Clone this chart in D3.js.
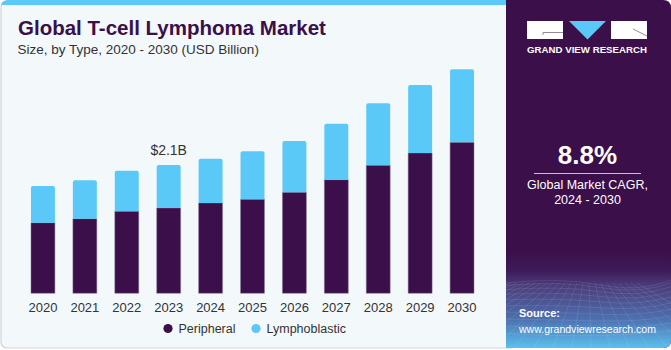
<!DOCTYPE html>
<html>
<head>
<meta charset="utf-8">
<script src="https://cdn.jsdelivr.net/npm/d3@7"></script>
<style>
  body { margin: 0; background: #ffffff; }
  svg { display: block; font-family: "Liberation Sans", Arial, sans-serif; }
</style>
</head>
<body>
<svg id="chart" width="671" height="350"></svg>
<script>
const years = ["2020", "2021", "2022", "2023", "2024", "2025", "2026", "2027", "2028", "2029", "2030"];
const peripheral = [1.155, 1.221, 1.342, 1.396, 1.478, 1.538, 1.653, 1.859, 2.095, 2.296, 2.471];
const lymphoblastic = [0.601, 0.628, 0.665, 0.704, 0.725, 0.786, 0.840, 0.917, 1.015, 1.113, 1.195];
const seriesNames = ["Peripheral", "Lymphoblastic"];
const seriesColors = ["#3a0f4a", "#5bc9f7"];
const callout = { year: "2023", label: "$2.1B" };

const svg = d3.select("#chart");
const W = 671, H = 350;
const purple = "#3a0f4a";

// background panel
svg.append("rect").attr("x", 1).attr("y", 1).attr("width", 515).attr("height", 347)
  .attr("rx", 6).attr("fill", "#f3f8fb").attr("stroke", "#cfd3d6").attr("stroke-width", 1.2);
svg.append("path").attr("d", "M1,7 Q1,0 8,0 L512,0 L512,5 L1,5 Z").attr("fill", "#5bc9f7");

// right panel
const defs = svg.append("defs");
const grad = defs.append("linearGradient").attr("id", "srcGrad")
  .attr("x1", 0).attr("y1", 0).attr("x2", 0).attr("y2", 1);
grad.append("stop").attr("offset", "0").attr("stop-color", purple);
grad.append("stop").attr("offset", "0.22").attr("stop-color", "#3e1c5a");
grad.append("stop").attr("offset", "0.36").attr("stop-color", "#4b3c7a");
grad.append("stop").attr("offset", "0.7").attr("stop-color", "#4d6fae");
grad.append("stop").attr("offset", "1").attr("stop-color", "#5bc0ee");
defs.append("clipPath").attr("id", "panelClip")
  .append("path").attr("d", "M506,0 L663,0 Q671,0 671,8 L671,340 Q671,348 663,348 L506,348 Z");

const panel = svg.append("g").attr("clip-path", "url(#panelClip)");
panel.append("rect").attr("x", 506).attr("y", 0).attr("width", 165).attr("height", 348).attr("fill", purple);
panel.append("rect").attr("x", 506).attr("y", 250).attr("width", 165).attr("height", 98).attr("fill", "url(#srcGrad)");

// faint grid texture
const gridG = panel.append("g").attr("stroke", "#ffffff").attr("stroke-opacity", 0.16).attr("fill", "none").attr("stroke-width", 0.6);
d3.range(0, 10).forEach(i => {
  const y = 283 + Math.pow(i, 1.35) * 2.6;
  gridG.append("path").attr("d", `M506,${y} Q560,${y - 6 + i} 600,${y + 2} T671,${y - 3}`);
});
d3.range(-6, 16).forEach(i => {
  const x0 = 506 + i * 12;
  gridG.append("path").attr("d", `M${588 + (x0 - 588) * 0.5},283 L${588 + (x0 - 588) * 1.6},348`);
});

// logo
const logo = svg.append("g");
logo.append("rect").attr("x", 527).attr("y", 21).attr("width", 36).attr("height", 18).attr("fill", "#ffffff");
logo.append("path").attr("d", "M543,32.5 L563,32.5 M543,32.5 L543,35").attr("stroke", "#7a6d85").attr("stroke-width", 0.8);
logo.append("path").attr("d", "M569,21 L606,21 L587.5,39.5 Z").attr("fill", "#5bc9f7");
logo.append("rect").attr("x", 611).attr("y", 21).attr("width", 36).attr("height", 18).attr("fill", "#ffffff");
logo.append("path").attr("d", "M633,29 L647,36").attr("stroke", "#7a6d85").attr("stroke-width", 0.8);
logo.append("text").attr("x", 527).attr("y", 53).attr("textLength", 120).attr("lengthAdjust", "spacingAndGlyphs")
  .attr("fill", "#ffffff").attr("font-size", 9.5).attr("font-weight", "bold").text("GRAND VIEW RESEARCH");

// CAGR
svg.append("text").attr("x", 587.5).attr("y", 164).attr("text-anchor", "middle").attr("fill", "#ffffff")
  .attr("font-size", 26).attr("font-weight", "bold").text("8.8%");
svg.append("line").attr("x1", 534).attr("x2", 641).attr("y1", 173.5).attr("y2", 173.5)
  .attr("stroke", "#c9bfd0").attr("stroke-width", 1);
svg.append("text").attr("x", 587.5).attr("y", 189).attr("text-anchor", "middle").attr("fill", "#ffffff")
  .attr("font-size", 12.5).text("Global Market CAGR,");
svg.append("text").attr("x", 587.5).attr("y", 204).attr("text-anchor", "middle").attr("fill", "#ffffff")
  .attr("font-size", 12.5).text("2024 - 2030");

// source
svg.append("text").attr("x", 519).attr("y", 317).attr("fill", "#ffffff").attr("font-size", 11)
  .attr("font-weight", "bold").text("Source:");
svg.append("text").attr("x", 519).attr("y", 332.5).attr("fill", "#ffffff").attr("font-size", 11.5)
  .attr("textLength", 137).attr("lengthAdjust", "spacingAndGlyphs").text("www.grandviewresearch.com");

// titles
svg.append("text").attr("x", 18).attr("y", 35).attr("fill", purple).attr("font-size", 20.5)
  .attr("font-weight", "bold").text("Global T-cell Lymphoma Market");
svg.append("text").attr("x", 17.5).attr("y", 54).attr("fill", "#333333").attr("font-size", 13.5)
  .text("Size, by Type, 2020 - 2030 (USD Billion)");

// scales
const x = d3.scaleBand().domain(years).range([22, 483]).paddingInner(0.4286).paddingOuter(0.2143);
const y = d3.scaleLinear().domain([0, 4]).range([293.3, 293.3 - 4 * 61.1]);

const rows = years.map((yr, i) => ({ year: yr, Peripheral: peripheral[i], Lymphoblastic: lymphoblastic[i] }));
const stacked = d3.stack().keys(seriesNames)(rows);

const barsG = svg.append("g");
stacked.forEach((layer, li) => {
  barsG.append("g").selectAll("path").data(layer).join("path")
    .attr("fill", seriesColors[li])
    .attr("stroke", li === 0 ? "#8a7a98" : "none").attr("stroke-width", 0.5)
    .attr("d", d => {
      const x0 = x(d.data.year), w = x.bandwidth();
      const yTop = y(d[1]), yBot = y(d[0]);
      const r = li === 1 ? 2 : 0;
      return `M${x0},${yBot} L${x0},${yTop + r} Q${x0},${yTop} ${x0 + r},${yTop} L${x0 + w - r},${yTop} Q${x0 + w},${yTop} ${x0 + w},${yTop + r} L${x0 + w},${yBot} Z`;
    });
});

// x axis labels
const xAxis = svg.append("g").attr("transform", "translate(0,293.3)")
  .call(d3.axisBottom(x).tickSize(0).tickPadding(9));
xAxis.select(".domain").remove();
xAxis.selectAll("text").attr("font-size", 13).attr("fill", "#333333")
  .attr("font-family", "Liberation Sans, Arial, sans-serif");

// callout
const ci = years.indexOf(callout.year);
svg.append("text").attr("x", x(callout.year) + x.bandwidth() / 2).attr("y", y(peripheral[ci] + lymphoblastic[ci]) - 9.5)
  .attr("text-anchor", "middle").attr("fill", "#333333").attr("font-size", 14).text(callout.label);

// legend
const legend = svg.append("g");
const legendX = [168, 256];
seriesNames.forEach((name, i) => {
  legend.append("circle").attr("cx", legendX[i]).attr("cy", 328.5).attr("r", 4.6).attr("fill", seriesColors[i]);
  legend.append("text").attr("x", legendX[i] + 10.5).attr("y", 332.5).attr("fill", "#333333")
    .attr("font-size", 12.5).text(name);
});
</script>
</body>
</html>
